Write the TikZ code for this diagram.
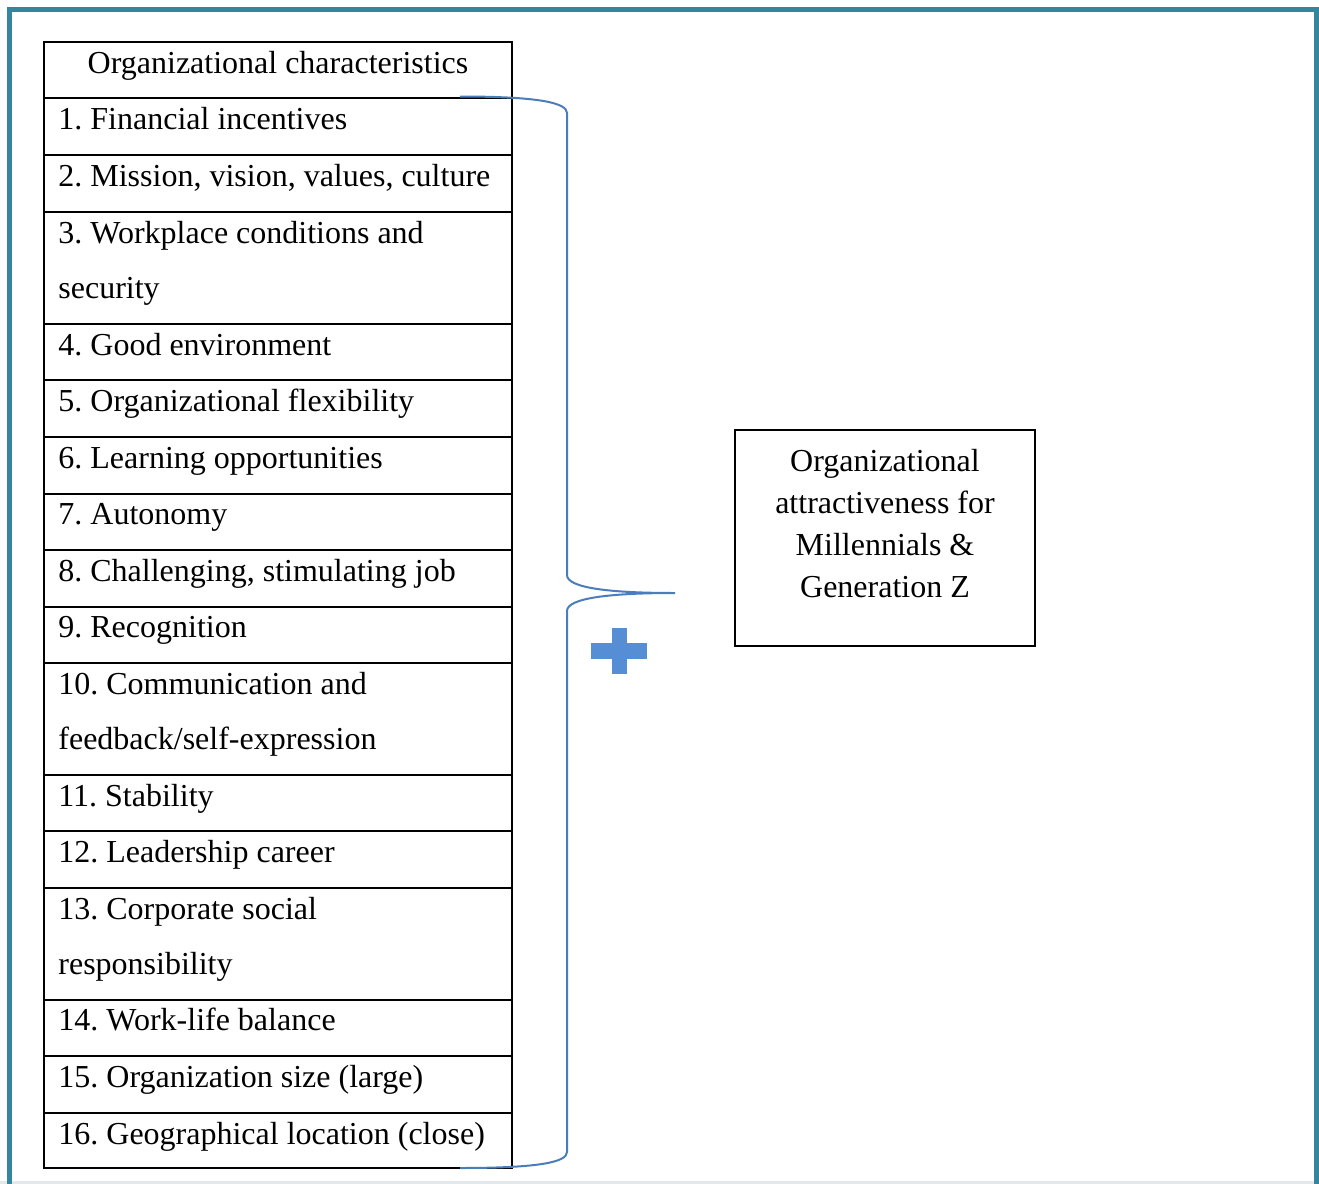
\documentclass[tikz,border=0pt]{standalone}
\usepackage{fontspec}
\setmainfont{Liberation Serif}
\frenchspacing
\definecolor{frameteal}{RGB}{52,134,158}
\definecolor{braceblue}{RGB}{74,126,187}
\definecolor{plusblue}{RGB}{85,142,213}
\definecolor{stripgray}{RGB}{226,232,236}
\begin{document}
\begin{tikzpicture}[x=0.5pt,y=-0.5pt,
  cell/.style={draw, line width=1pt, minimum width=234pt, inner sep=0pt, outer sep=0pt, anchor=north west},
  celltext/.style={anchor=base west, inner sep=0pt, font=\fontsize{16}{19}\selectfont},
  boxtext/.style={anchor=base, inner sep=0pt, font=\fontsize{16}{19}\selectfont},
  brace/.style={draw=braceblue, line width=1pt}]
\useasboundingbox (0,0) rectangle (1319,1184);
\fill[white] (0,0) rectangle (1319,1184);
\fill[stripgray] (0,1181) rectangle (1319,1184);
% outer frame, open at the bottom
\draw[frameteal, line width=2.5pt] (9.5,1184) -- (9.5,9.5) -- (1316.5,9.5) -- (1316.5,1184);

% table cells
\foreach \i/\t/\b in {0/42/98, 1/98/155, 2/155/212, 3/212/324, 4/324/380, 5/380/437,
  6/437/494, 7/494/550, 8/550/607, 9/607/663, 10/663/775, 11/775/831, 12/831/888,
  13/888/1000, 14/1000/1056, 15/1056/1113, 16/1113/1168}
  \node[cell, minimum height={(\b-\t)*0.5pt}] (row\i) at (44,\t) {};

% header
\node[boxtext] (hdr) at (278,73) {Organizational characteristics};

% item texts
\node[celltext] (t1) at (58,129) {1. Financial incentives};
\node[celltext] (t2) at (58,186) {2. Mission, vision, values, culture};
\node[celltext] (t3a) at (58,243) {3. Workplace conditions and};
\node[celltext] (t3b) at (58,298) {security};
\node[celltext] (t4) at (58,355) {4. Good environment};
\node[celltext] (t5) at (58,411) {5. Organizational flexibility};
\node[celltext] (t6) at (58,468) {6. Learning opportunities};
\node[celltext] (t7) at (58,524) {7. Autonomy};
\node[celltext] (t8) at (58,581) {8. Challenging, stimulating job};
\node[celltext] (t9) at (58,637) {9. Recognition};
\node[celltext] (t10a) at (58,694) {10. Communication and};
\node[celltext] (t10b) at (58,749) {feedback/self-expression};
\node[celltext] (t11) at (58,806) {11. Stability};
\node[celltext] (t12) at (58,862) {12. Leadership career};
\node[celltext] (t13a) at (58,919) {13. Corporate social};
\node[celltext] (t13b) at (58,974) {responsibility};
\node[celltext] (t14) at (58,1030) {14. Work-life balance};
\node[celltext] (t15) at (58,1087) {15. Organization size (large)};
\node[celltext] (t16) at (58,1144) {16. Geographical location (close)};

% outcome box
\node[draw, line width=1pt, minimum width=150pt, minimum height=108pt, inner sep=0pt, outer sep=0pt] (goal) at (885,538) {};
\node[boxtext] (g1) at (885,471) {Organizational};
\node[boxtext] (g2) at (885,513) {attractiveness for};
\node[boxtext] (g3) at (885,555) {Millennials \&};
\node[boxtext] (g4) at (885,597) {Generation Z};

% brace gathering the characteristics
\coordinate (tip) at (675,593);
\draw[brace] (460,96.5) .. controls (540,96.5) and (567,103) .. (567,113)
  -- (567,575) .. controls (567,588) and (610,593) .. (tip)
  .. controls (610,593) and (567,598) .. (567,611)
  -- (567,1152) .. controls (567,1162) and (540,1168) .. (460,1168);

% plus sign
\fill[plusblue] (591,643) rectangle (647,659);
\fill[plusblue] (612,628) rectangle (627,674);
\end{tikzpicture}
\end{document}
